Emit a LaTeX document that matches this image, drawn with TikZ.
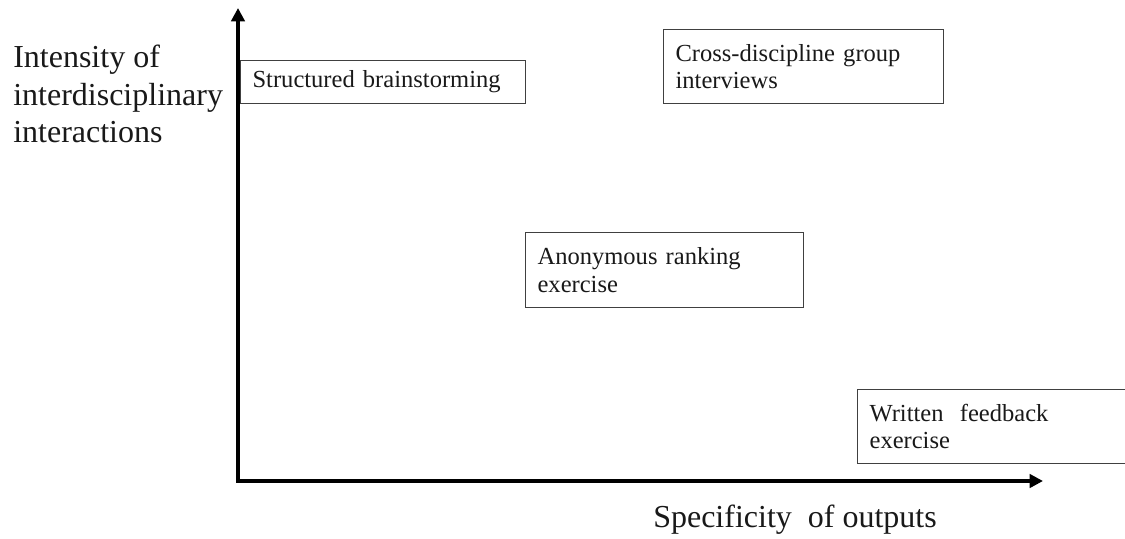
\documentclass[tikz,border=0pt]{standalone}
\usepackage{fontspec}
\setmainfont{Liberation Serif}
\usetikzlibrary{arrows.meta}
\begin{document}
\begin{tikzpicture}[x=0.75pt,y=-0.75pt,
  box/.style={draw=black!75, line width=0.9pt, anchor=north west, align=left,
    inner xsep=9pt, inner ysep=0pt, text=black!90,
    font=\fontsize{18.4}{20.3}\selectfont},
  axis/.style={line width=3pt, line join=miter,
    {Triangle[length=10pt,width=10pt]}-{Triangle[length=10pt,width=10pt]}},
  axlabel/.style={inner sep=0pt, align=left, text=black!90,
    font=\fontsize{24}{28}\selectfont}]
\useasboundingbox[fill=white] (0,0) rectangle (1125,539);

\node[box, text width=195.75pt, minimum height=32.25pt] (sb) at (240,60) {Structured brainstorming};
\node[box, text width=192pt, minimum height=55.5pt] (cd) at (663,29) {Cross-discipline group\\interviews};
\node[box, text width=190.5pt, minimum height=56.25pt] (ar) at (525,232) {Anonymous ranking\\exercise};
\node[box, text width=192pt, minimum height=55.5pt] (wf) at (857,389) {Written\ \ feedback\\exercise};

\coordinate (ytop) at (238,8);
\coordinate (o) at (238,481);
\coordinate (xend) at (1043,481);
\draw[axis] (ytop) -- (o) -- (xend);

\node[axlabel, anchor=north west] (ylab) at (13,45) {Intensity of\\interdisciplinary\\interactions};
\node[axlabel, anchor=base west] (xlab) at (653,527) {Specificity\ \ of outputs};
\end{tikzpicture}
\end{document}
